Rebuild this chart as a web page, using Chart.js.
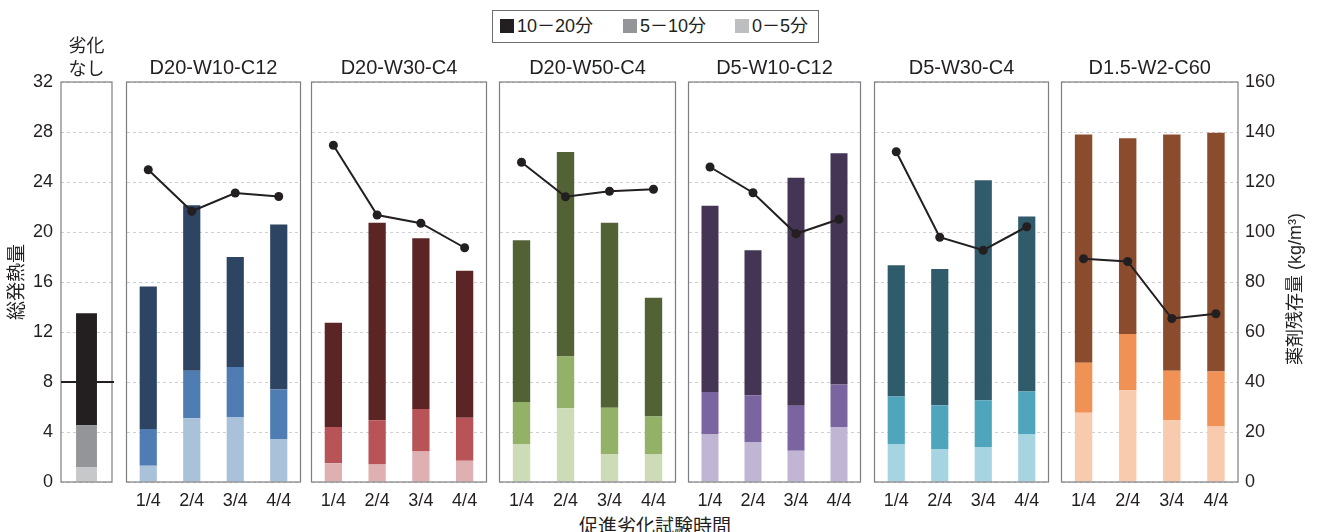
<!DOCTYPE html>
<html lang="ja">
<head>
<meta charset="utf-8">
<title>総発熱量と薬剤残存量</title>
<script src="https://cdn.jsdelivr.net/npm/chart.js@4.4.1/dist/chart.umd.min.js"></script>
<style>
  html, body { margin: 0; padding: 0; background: #fff; }
  #wrap { position: relative; width: 1319px; height: 532px; overflow: hidden;
    font-family: 'Liberation Sans', 'Noto Sans CJK JP', sans-serif; color: #231f20; }
  .panel { position: absolute; top: 0; }
  .legend { position: absolute; left: 492px; top: 10px; width: 325px; height: 31px;
    border: 1px solid #6d6e71; font-size: 18px; }
  .legend .item { position: absolute; top: 5px; line-height: 21px; white-space: nowrap; }
  .legend .sw { display: inline-block; width: 14px; height: 14px; margin-right: 3px; vertical-align: -1px; }
  .xtitle { position: absolute; left: 655px; top: 511px; transform: translateX(-50%);
    font-size: 19px; white-space: nowrap; }
</style>
</head>
<body>
<div id="wrap">
  <div class="legend" id="legend"></div>
  <div class="xtitle">促進劣化試験時間</div>
</div>
<script>
'use strict'

// DATA
var TIMES = ['1/4', '2/4', '3/4', '4/4'];
var SPECIMENS = ['D20-W10-C12', 'D20-W30-C4', 'D20-W50-C4', 'D5-W10-C12', 'D5-W30-C4', 'D1.5-W2-C60'];
var BINS = ['10－20分', '5－10分', '0－5分'];

// heat release per time bin (stacked), one row per specimen
var heat0to5 = [
  [1.3, 5.1, 5.2, 3.45],
  [1.5, 1.4, 2.45, 1.7],
  [3.0, 5.9, 2.25, 2.2],
  [3.85, 3.2, 2.5, 4.4],
  [3.05, 2.65, 2.8, 3.8],
  [5.55, 7.35, 4.95, 4.45]
];
var heat5to10 = [
  [2.95, 3.8, 4.0, 3.95],
  [2.9, 3.55, 3.4, 3.45],
  [3.4, 4.15, 3.7, 3.05],
  [3.35, 3.75, 3.6, 3.4],
  [3.8, 3.5, 3.75, 3.45],
  [4.0, 4.5, 3.95, 4.4]
];
var heat10to20 = [
  [11.4, 13.25, 8.8, 13.2],
  [8.35, 15.8, 13.65, 11.75],
  [12.95, 16.35, 14.8, 9.5],
  [14.9, 11.6, 18.25, 18.5],
  [10.5, 10.9, 17.6, 14.0],
  [18.25, 15.65, 18.9, 19.1]
];
// residual chemical (kg/m3), right axis
var residual = [
  [124.9, 108.3, 115.6, 114.2],
  [134.7, 106.8, 103.5, 93.7],
  [127.9, 114.1, 116.3, 117.1],
  [126.0, 115.7, 99.3, 105.1],
  [132.1, 97.9, 92.7, 102.1],
  [89.3, 88.2, 65.4, 67.3]
];

// untreated reference (劣化なし)
var UNTREATED_TITLE = ['劣化', 'なし'];
var untreated0to5 = [1.2];
var untreated5to10 = [3.35];
var untreated10to20 = [8.95];
var CRITERION = 8;

// axes
var HEAT_MIN = 0, HEAT_MAX = 32, HEAT_STEP = 4;
var RES_MIN = 0, RES_MAX = 160, RES_STEP = 20;
var HEAT_TITLE = '総発熱量';
var RES_TITLE = '薬剤残存量 (kg/m³)';

// STYLE
var GREYS = ['#231f20', '#939598', '#c7c8ca'];
var PALETTE = [
  ['#2e4463', '#4f7db3', '#aac1da'],
  ['#5a2524', '#b85357', '#dfb0b2'],
  ['#536235', '#93b267', '#cddbb7'],
  ['#433553', '#7a65a0', '#c0b5d2'],
  ['#305b6a', '#4fa6bc', '#a6d5e1'],
  ['#8b4c2e', '#f09155', '#f8caae']
];
var LEGEND_COLORS = ['#231f20', '#939598', '#bcbec0'];

// LAYOUT (plot area left/right of each panel)
var PANEL_X = [[61, 112], [125, 302], [310, 488], [498, 677], [687, 862], [873, 1050], [1060, 1238]];
var LEGEND_X = [7, 130, 242];
var CANVAS_H = 512, X_AXIS_H = 30;
var FONT = "'Liberation Sans', 'Noto Sans CJK JP', sans-serif";
var INK = '#231f20';

Chart.defaults.font.family = FONT;
Chart.defaults.color = INK;

// legend
var legend = document.getElementById('legend');
BINS.forEach(function(name, i) {
  var item = document.createElement('div');
  item.className = 'item';
  item.style.left = LEGEND_X[i] + 'px';
  item.innerHTML = '<span class="sw" style="background:' + LEGEND_COLORS[i] + '"></span>' + name;
  legend.appendChild(item);
});

// box around every plot
var panelBox = {
  id: 'panelBox',
  afterDraw: function(chart) {
    var a = chart.chartArea, ctx = chart.ctx;
    ctx.save();
    ctx.strokeStyle = '#7d7e81';
    ctx.lineWidth = 1.2;
    ctx.strokeRect(a.left, a.top, a.right - a.left, a.bottom - a.top);
    ctx.restore();
  }
};

// horizontal criterion line (untreated panel)
var criterionLine = {
  id: 'criterionLine',
  afterDraw: function(chart, args, opts) {
    if (opts.value == null) return;
    var a = chart.chartArea, ctx = chart.ctx;
    var y = chart.scales.y.getPixelForValue(opts.value);
    ctx.save();
    ctx.strokeStyle = INK;
    ctx.lineWidth = 2;
    ctx.beginPath();
    ctx.moveTo(a.left, y);
    ctx.lineTo(a.right + 2, y);
    ctx.stroke();
    ctx.restore();
  }
};

// right axis title, reads bottom to top like the left one
var sideTitle = {
  id: 'sideTitle',
  afterDraw: function(chart, args, opts) {
    if (!opts.text) return;
    var a = chart.chartArea, ctx = chart.ctx;
    ctx.save();
    ctx.translate(a.right + 58, (a.top + a.bottom) / 2 + 7);
    ctx.rotate(-Math.PI / 2);
    ctx.font = '18px ' + FONT;
    ctx.fillStyle = INK;
    ctx.textAlign = 'center';
    ctx.textBaseline = 'middle';
    ctx.fillText(opts.text, 0, 0);
    ctx.restore();
  }
};

function makePanel(idx, cfg) {
  var x0 = PANEL_X[idx][0], x1 = PANEL_X[idx][1];
  var first = idx === 0, last = idx === PANEL_X.length - 1;
  var leftW = first ? x0 : 0;
  var rightW = last ? 72 : 0;
  var padL = first ? 0 : 3, padR = 3;
  var canvasLeft = first ? 0 : x0 - padL;
  var width = x1 + padR + rightW - canvasLeft;

  var holder = document.createElement('div');
  holder.className = 'panel';
  holder.style.left = canvasLeft + 'px';
  var canvas = document.createElement('canvas');
  canvas.width = width;
  canvas.height = CANVAS_H;
  holder.appendChild(canvas);
  document.getElementById('wrap').appendChild(holder);

  var titleSize = first ? 18 : 20;
  var titleLH = first ? 1.25 : 1.2;
  var lines = Array.isArray(cfg.title) ? cfg.title.length : 1;
  var padBottom = first ? 1 : 2;
  var padTop = 82 - lines * titleSize * titleLH - padBottom;

  var datasets = [
    { label: BINS[2], data: cfg.low, backgroundColor: cfg.colors[2], order: 1 },
    { label: BINS[1], data: cfg.mid, backgroundColor: cfg.colors[1], order: 1 },
    { label: BINS[0], data: cfg.high, backgroundColor: cfg.colors[0], order: 1 }
  ];
  if (cfg.line) {
    datasets.push({
      type: 'line', label: '薬剤残存量', data: cfg.line, yAxisID: 'y2', order: 0,
      borderColor: INK, borderWidth: 2, pointRadius: 4.5, pointBackgroundColor: INK,
      pointBorderWidth: 0, tension: 0
    });
  }

  return new Chart(canvas, {
    type: 'bar',
    data: { labels: cfg.labels, datasets: datasets },
    plugins: [panelBox, criterionLine, sideTitle],
    options: {
      responsive: false,
      animation: false,
      events: [],
      layout: { padding: { left: padL, right: padR, top: 0, bottom: 0 } },
      datasets: { bar: { barPercentage: first ? 0.41 : 0.395, categoryPercentage: 1 } },
      plugins: {
        legend: { display: false },
        tooltip: { enabled: false },
        title: {
          display: true, text: cfg.title, fullSize: false, color: INK,
          font: { size: titleSize, weight: 'normal', lineHeight: titleLH },
          padding: { top: padTop, bottom: padBottom }
        },
        criterionLine: { value: cfg.criterion },
        sideTitle: { text: last ? RES_TITLE : '' }
      },
      scales: {
        x: {
          stacked: true,
          grid: { display: false },
          border: { display: false },
          ticks: { font: { size: 18 }, padding: 0, color: INK },
          afterFit: function(s) { s.height = X_AXIS_H; }
        },
        y: {
          stacked: true,
          min: HEAT_MIN, max: HEAT_MAX,
          border: { display: false, dash: [3, 3] },
          grid: { color: '#cfd0d2', lineWidth: 1, drawTicks: false },
          ticks: { display: first, stepSize: HEAT_STEP, font: { size: 18 }, padding: 8, color: INK },
          title: {
            display: first, text: HEAT_TITLE, color: INK,
            font: { size: 19 }, padding: { top: 6, bottom: 0 }
          },
          afterFit: function(s) { s.width = leftW; }
        },
        y2: {
          display: last,
          position: 'right',
          min: RES_MIN, max: RES_MAX,
          border: { display: false },
          grid: { drawOnChartArea: false, drawTicks: false },
          ticks: { stepSize: RES_STEP, font: { size: 18 }, padding: 7, color: INK },
          afterFit: function(s) { s.width = rightW; }
        }
      }
    }
  });
}

makePanel(0, {
  title: UNTREATED_TITLE, labels: [''], colors: GREYS,
  low: untreated0to5, mid: untreated5to10, high: untreated10to20,
  criterion: CRITERION
});

SPECIMENS.forEach(function(name, i) {
  makePanel(i + 1, {
    title: name, labels: TIMES, colors: PALETTE[i],
    low: heat0to5[i], mid: heat5to10[i], high: heat10to20[i],
    line: residual[i]
  });
});
</script>
</body>
</html>
